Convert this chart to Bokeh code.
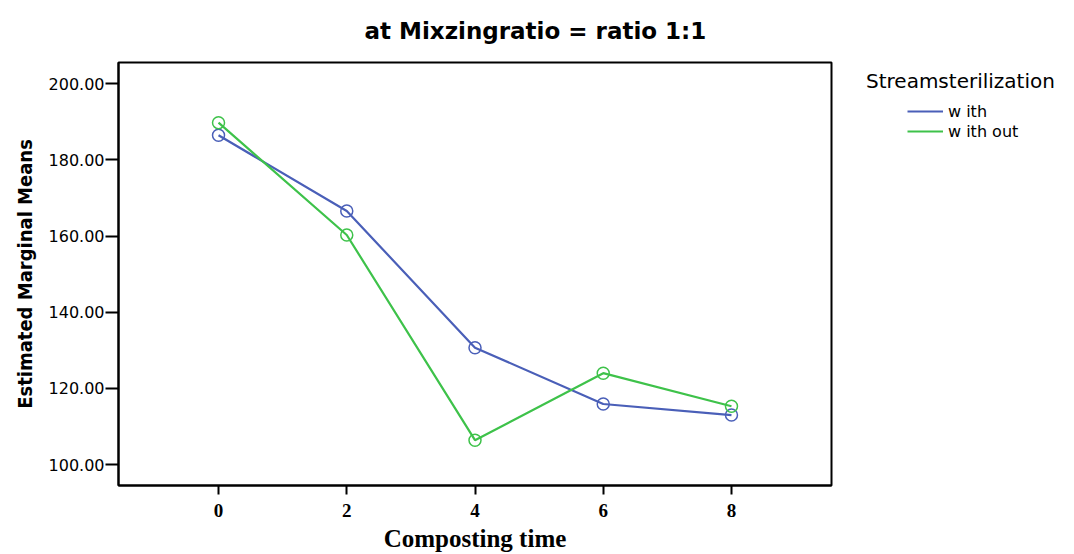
from bokeh.plotting import figure
from bokeh.layouts import row
from bokeh.models import Range1d, FixedTicker, Legend, LegendItem, PrintfTickFormatter
from bokeh.embed import file_html
from bokeh.resources import INLINE

# ---- data ----
composting_time = [0, 2, 4, 6, 8]
with_vals = [186.5, 166.6, 130.7, 115.9, 113.0]
without_vals = [189.8, 160.3, 106.4, 124.0, 115.3]
series_names = ["w ith", "w ith out"]
y_ticks = [100, 120, 140, 160, 180, 200]
x_ticks = [0, 2, 4, 6, 8]
title_text = "at Mixzingratio = ratio 1:1"
legend_title = "Streamsterilization"

BLUE = "#4a5fb8"
GREEN = "#3ec24a"

# ---------------- main chart ----------------
p = figure(width=840, height=554, output_backend="svg", toolbar_location=None,
           x_range=Range1d(-1.56, 9.56), y_range=Range1d(94.5, 205.6),
           min_border_left=118, min_border_right=9, min_border_top=62,
           min_border_bottom=67)

p.title.text = title_text
p.title.text_font = "DejaVu Sans"
p.title.text_font_style = "bold"
p.title.text_font_size = "23px"
p.title.text_color = "black"
p.title.align = "left"
p.title.offset = 246
p.title.vertical_align = "top"
p.title.text_line_height = 1.0
p.title.standoff = 33

p.xgrid.visible = False
p.ygrid.visible = False
p.outline_line_color = "black"
p.outline_line_width = 2
p.outline_line_alpha = 1
p.background_fill_color = "white"
p.border_fill_color = "white"

p.line(composting_time, with_vals, line_color=BLUE, line_width=2.2)
p.line(composting_time, without_vals, line_color=GREEN, line_width=2.2)
p.scatter(composting_time, with_vals, marker="circle", size=12, fill_color=None,
          line_color=BLUE, line_width=1.5)
p.scatter(composting_time, without_vals, marker="circle", size=12, fill_color=None,
          line_color=GREEN, line_width=1.5)

# x axis
xa = p.xaxis[0]
xa.ticker = FixedTicker(ticks=x_ticks)
xa.minor_tick_line_color = None
xa.major_tick_out = 9
xa.major_tick_in = 0
xa.major_tick_line_width = 2
xa.axis_line_width = 2
xa.major_label_text_font = "Liberation Serif"
xa.major_label_text_font_style = "bold"
xa.major_label_text_font_size = "19px"
xa.major_label_text_color = "black"
xa.major_label_standoff = 9
xa.axis_label = "Composting time"
xa.axis_label_text_font = "Liberation Serif"
xa.axis_label_text_font_style = "bold"
xa.axis_label_text_font_size = "25px"
xa.axis_label_text_color = "black"
xa.axis_label_standoff = 5

# y axis
ya = p.yaxis[0]
ya.ticker = FixedTicker(ticks=y_ticks)
ya.formatter = PrintfTickFormatter(format="%.2f")
ya.minor_tick_line_color = None
ya.major_tick_out = 13
ya.major_tick_in = 0
ya.major_tick_line_width = 2
ya.axis_line_width = 2
ya.major_label_text_font = "DejaVu Sans"
ya.major_label_text_font_size = "16px"
ya.major_label_text_color = "black"
ya.major_label_standoff = 1
ya.axis_label = "Estimated Marginal Means"
ya.axis_label_text_font = "DejaVu Sans Condensed"
ya.axis_label_text_font_style = "bold"
ya.axis_label_text_font_size = "20px"
ya.axis_label_text_color = "black"
ya.axis_label_standoff = 9

# ---------------- legend panel ----------------
lf = figure(width=234, height=554, output_backend="svg", toolbar_location=None,
            x_range=Range1d(0, 1), y_range=Range1d(0, 1),
            x_axis_type=None, y_axis_type=None, min_border=0)
lf.xgrid.visible = False
lf.ygrid.visible = False
lf.outline_line_color = None
lf.background_fill_color = "white"
lf.border_fill_color = "white"

# legend renderers (their data lie outside this panel's view)
l_with = lf.line(composting_time, with_vals, line_color=BLUE, line_width=2)
l_without = lf.line(composting_time, without_vals, line_color=GREEN, line_width=2)
l_blank = lf.line(composting_time, with_vals, line_alpha=0)

legend = Legend(title=legend_title,
                items=[LegendItem(label="", renderers=[l_blank]),
                       LegendItem(label="", renderers=[l_blank]),
                       LegendItem(label=series_names[0], renderers=[l_with]),
                       LegendItem(label=series_names[1], renderers=[l_without])],
                orientation="vertical", nrows=2,
                location=(26, 344), margin=0,
                border_line_color=None, background_fill_alpha=0,
                padding=0, spacing=0,
                glyph_width=36, glyph_height=20, label_height=20, label_width=0,
                label_standoff=5, label_text_font="DejaVu Sans",
                label_text_font_size="16px", label_text_color="black",
                title_text_font="DejaVu Sans", title_text_font_size="20px",
                title_text_font_style="normal", title_text_color="black",
                title_standoff=8)
lf.add_layout(legend)

layout = row(p, lf)
open("out.html", "w").write(file_html(layout, INLINE))
